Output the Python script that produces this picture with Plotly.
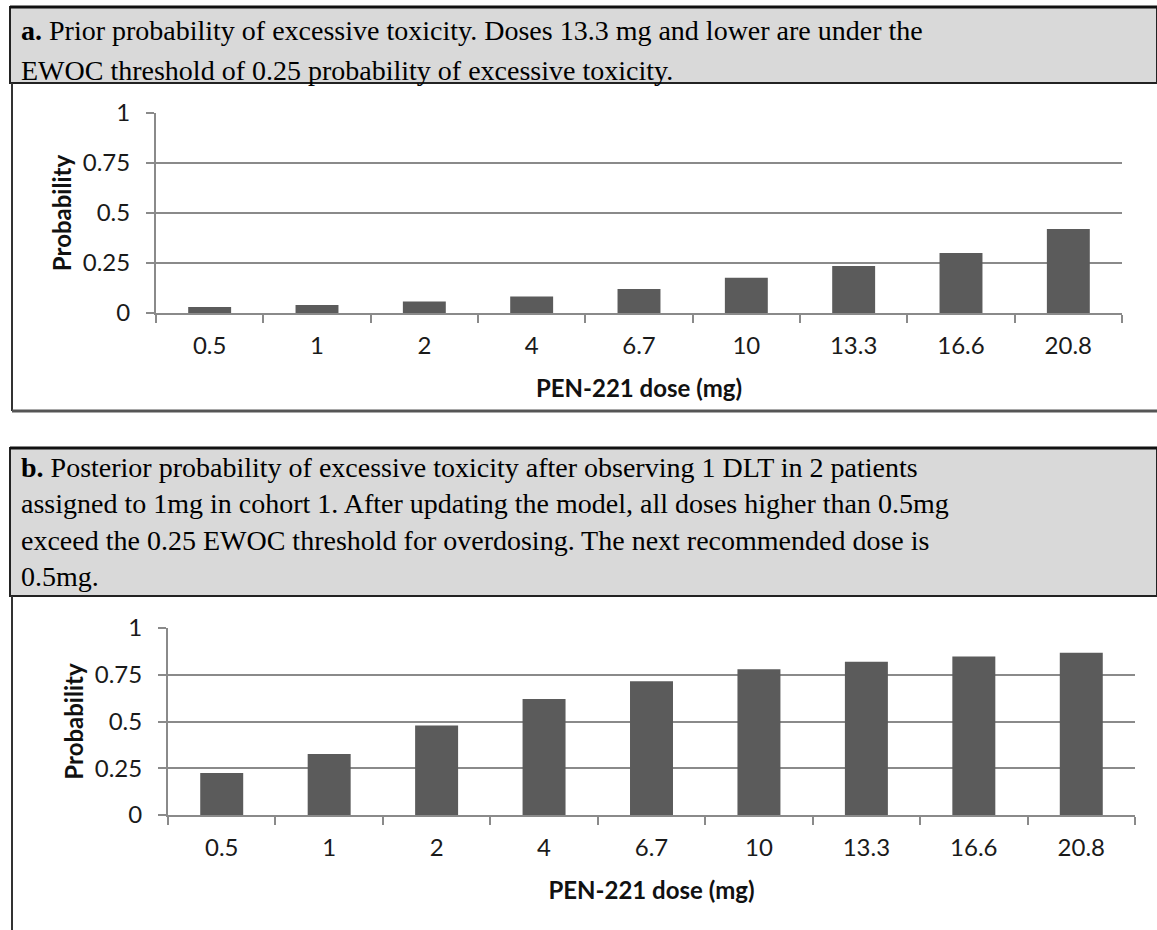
import plotly.graph_objects as go

doses = ["0.5", "1", "2", "4", "6.7", "10", "13.3", "16.6", "20.8"]
prior_prob = [0.03, 0.04, 0.057, 0.083, 0.12, 0.176, 0.235, 0.30, 0.42]
posterior_prob = [0.225, 0.326, 0.478, 0.62, 0.715, 0.78, 0.82, 0.847, 0.868]
y_ticks = [0, 0.25, 0.5, 0.75, 1]
y_tick_text = ["0", "0.25", "0.5", "0.75", "1"]

caption_a = [
    "<b>a.</b> Prior probability of excessive toxicity. Doses 13.3 mg and lower are under the",
    "EWOC threshold of 0.25 probability of excessive toxicity.",
]
caption_b = [
    "<b>b.</b> Posterior probability of excessive toxicity after observing 1 DLT in 2 patients",
    "assigned to 1mg in cohort 1. After updating the model, all doses higher than 0.5mg",
    "exceed the 0.25 EWOC threshold for overdosing. The next recommended dose is",
    "0.5mg.",
]

W, H = 1157, 930
def px(x):
    return x / W
def py(y):
    return 1 - y / H

BAR = "#5b5b5b"
GRID = "#8a8a8a"
TICKFONT = dict(family="Lato", size=24, color="#1a1a1a")
TITLEFONT = dict(family="Lato", size=24, color="#111111")
CAPFONT = dict(family="Liberation Serif", size=28, color="#000000")

fig = go.Figure()
fig.add_trace(go.Bar(x=doses, y=prior_prob, marker=dict(color=BAR, line=dict(width=0)),
                     xaxis="x", yaxis="y", showlegend=False))
fig.add_trace(go.Bar(x=doses, y=posterior_prob, marker=dict(color=BAR, line=dict(width=0)),
                     xaxis="x2", yaxis="y2", showlegend=False))

def xaxis(dom, anchor):
    return dict(domain=dom, anchor=anchor, type="category", showgrid=False,
                showline=True, linecolor=GRID, linewidth=2,
                ticks="outside", tickson="boundaries", ticklen=8, tickwidth=2, tickcolor=GRID,
                tickfont=TICKFONT, ticklabelstandoff=10, fixedrange=True,
                title=dict(text="<b>PEN-221 dose (mg)</b>", font=TITLEFONT, standoff=22))

def yaxis(dom, anchor):
    return dict(domain=dom, anchor=anchor, range=[0, 1], tickvals=y_ticks, ticktext=y_tick_text,
                showgrid=True, gridcolor=GRID, gridwidth=2, zeroline=False,
                showline=True, linecolor=GRID, linewidth=2,
                ticks="outside", ticklen=8, tickwidth=2, tickcolor=GRID,
                tickfont=TICKFONT, ticklabelstandoff=11, fixedrange=True,
                title=dict(text="<b>Probability</b>", font=TITLEFONT, standoff=4))

shapes = [
    # caption box a
    dict(type="rect", xref="paper", yref="paper", x0=px(10), x1=px(1157), y0=py(83), y1=py(7),
         fillcolor="#d9d9d9", line=dict(color="#222222", width=2), layer="below"),
    dict(type="line", xref="paper", yref="paper", x0=px(10), x1=px(1157), y0=py(7), y1=py(7),
         line=dict(color="#111111", width=3)),
    # chart frame a
    dict(type="line", xref="paper", yref="paper", x0=px(12), x1=px(12), y0=py(83), y1=py(411),
         line=dict(color="#333333", width=2)),
    dict(type="line", xref="paper", yref="paper", x0=px(12), x1=px(1157), y0=py(411), y1=py(411),
         line=dict(color="#555555", width=3)),
    # caption box b
    dict(type="rect", xref="paper", yref="paper", x0=px(10), x1=px(1157), y0=py(596), y1=py(448),
         fillcolor="#d9d9d9", line=dict(color="#222222", width=2), layer="below"),
    dict(type="line", xref="paper", yref="paper", x0=px(10), x1=px(1157), y0=py(448), y1=py(448),
         line=dict(color="#111111", width=3)),
    # chart frame b
    dict(type="line", xref="paper", yref="paper", x0=px(12), x1=px(12), y0=py(596), y1=py(930),
         line=dict(color="#333333", width=2)),
]

annotations = []
for text, yc in zip(caption_a, [31, 70]):
    annotations.append(dict(text=text, xref="paper", yref="paper", x=px(19), y=py(yc),
                            xanchor="left", yanchor="middle", showarrow=False, font=CAPFONT))
annotations.append(dict(text="<br>".join(caption_b), xref="paper", yref="paper",
                        x=px(19), y=py(522), xanchor="left", yanchor="middle", align="left",
                        showarrow=False, font=CAPFONT))

fig.update_layout(
    width=W, height=H, margin=dict(l=0, r=0, t=0, b=0, autoexpand=False),
    paper_bgcolor="white", plot_bgcolor="white",
    bargap=0.6,
    xaxis=xaxis([px(156), px(1122)], "y"),
    yaxis=yaxis([py(313), py(113)], "x"),
    xaxis2=xaxis([px(168), px(1135)], "y2"),
    yaxis2=yaxis([py(815), py(628)], "x2"),
    shapes=shapes, annotations=annotations,
)

fig.write_html("out.html")
